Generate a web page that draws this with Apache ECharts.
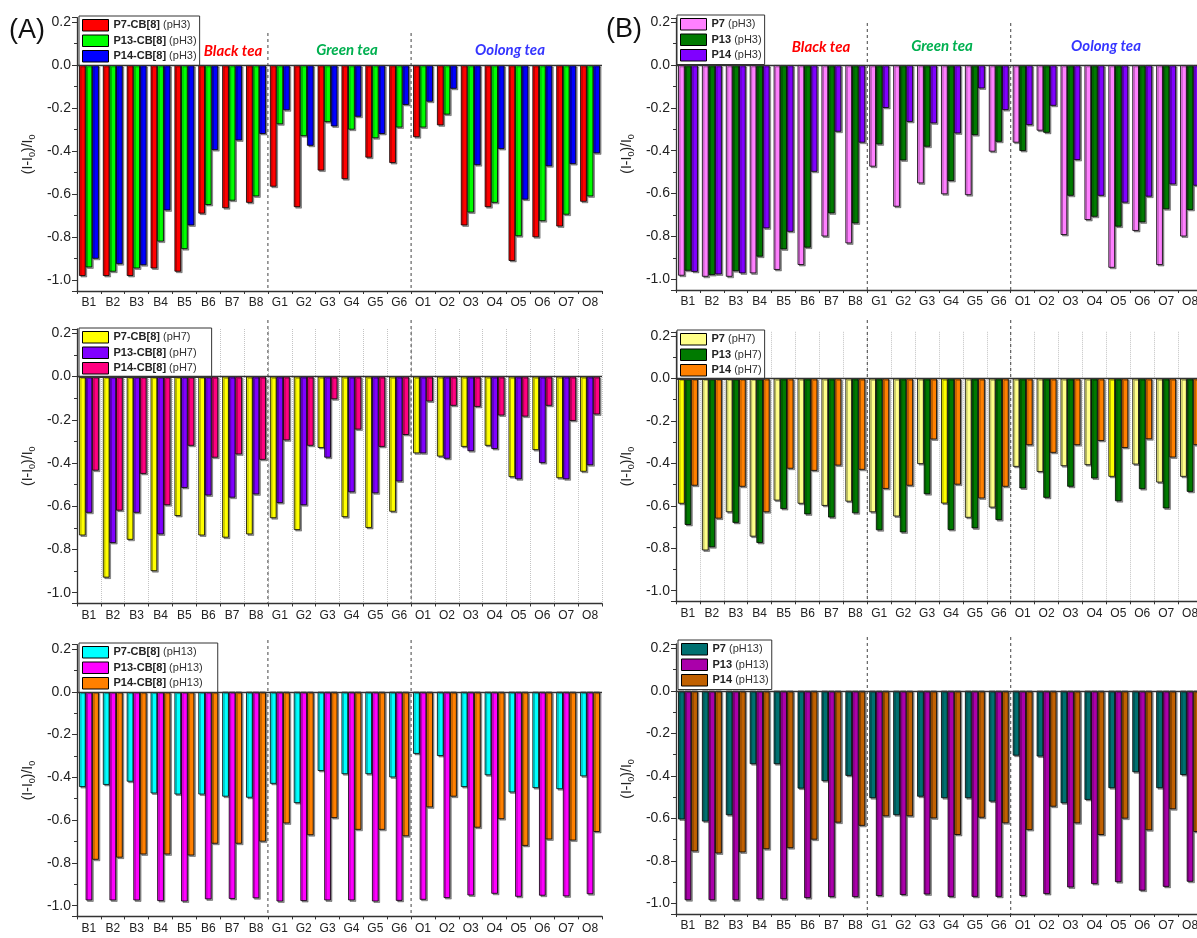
<!DOCTYPE html>
<html>
<head>
<meta charset="utf-8">
<script src="https://cdn.jsdelivr.net/npm/echarts@6/dist/echarts.min.js"></script>
<style>
  html, body { margin: 0; padding: 0; background: #ffffff; }
  #chart { width: 1197px; height: 938px; }
</style>
</head>
<body>
<div id="chart"></div>
<script>
// Tea samples: black (B), green (G) and oolong (O)
const categories = ['B1','B2','B3','B4','B5','B6','B7','B8',
                    'G1','G2','G3','G4','G5','G6',
                    'O1','O2','O3','O4','O5','O6','O7','O8'];

// (A) polymer–CB[8] complexes, response (I-I0)/I0
const cbP7_pH3  = [-0.98,-0.98,-0.98,-0.945,-0.96,-0.69,-0.665,-0.64,-0.565,-0.66,-0.49,-0.53,-0.43,-0.455,-0.335,-0.28,-0.745,-0.66,-0.91,-0.80,-0.75,-0.635];
const cbP13_pH3 = [-0.94,-0.96,-0.945,-0.82,-0.855,-0.65,-0.63,-0.61,-0.275,-0.33,-0.265,-0.30,-0.34,-0.29,-0.29,-0.23,-0.685,-0.64,-0.795,-0.725,-0.695,-0.61];
const cbP14_pH3 = [-0.90,-0.925,-0.93,-0.675,-0.745,-0.395,-0.35,-0.32,-0.21,-0.375,-0.285,-0.24,-0.32,-0.185,-0.17,-0.11,-0.465,-0.39,-0.625,-0.47,-0.46,-0.41];

const cbP7_pH7  = [-0.735,-0.93,-0.755,-0.90,-0.645,-0.735,-0.745,-0.73,-0.655,-0.71,-0.33,-0.65,-0.70,-0.625,-0.355,-0.37,-0.325,-0.32,-0.465,-0.34,-0.47,-0.44];
const cbP13_pH7 = [-0.63,-0.77,-0.63,-0.73,-0.515,-0.55,-0.56,-0.545,-0.585,-0.595,-0.375,-0.535,-0.54,-0.485,-0.355,-0.38,-0.345,-0.335,-0.475,-0.40,-0.475,-0.41];
const cbP14_pH7 = [-0.435,-0.62,-0.45,-0.595,-0.32,-0.375,-0.36,-0.385,-0.295,-0.32,-0.105,-0.245,-0.325,-0.27,-0.115,-0.135,-0.14,-0.18,-0.185,-0.135,-0.205,-0.175];

const cbP7_pH13  = [-0.445,-0.435,-0.42,-0.475,-0.48,-0.48,-0.49,-0.495,-0.43,-0.52,-0.37,-0.385,-0.385,-0.40,-0.29,-0.30,-0.445,-0.39,-0.47,-0.45,-0.455,-0.395];
const cbP13_pH13 = [-0.975,-0.975,-0.975,-0.978,-0.98,-0.97,-0.968,-0.965,-0.98,-0.978,-0.975,-0.975,-0.98,-0.977,-0.972,-0.964,-0.952,-0.944,-0.958,-0.953,-0.956,-0.946];
const cbP14_pH13 = [-0.785,-0.775,-0.76,-0.76,-0.765,-0.71,-0.71,-0.70,-0.615,-0.67,-0.59,-0.645,-0.645,-0.675,-0.54,-0.49,-0.635,-0.595,-0.72,-0.69,-0.695,-0.655];

// (B) free polymers
const p7_pH3  = [-0.983,-0.988,-0.988,-0.972,-0.956,-0.933,-0.80,-0.832,-0.474,-0.661,-0.552,-0.603,-0.607,-0.404,-0.362,-0.306,-0.793,-0.723,-0.946,-0.774,-0.933,-0.80];
const p13_pH3 = [-0.96,-0.98,-0.962,-0.894,-0.86,-0.852,-0.692,-0.739,-0.37,-0.445,-0.381,-0.541,-0.327,-0.358,-0.401,-0.316,-0.61,-0.708,-0.754,-0.734,-0.673,-0.676];
const p14_pH3 = [-0.965,-0.977,-0.972,-0.762,-0.778,-0.498,-0.311,-0.362,-0.20,-0.265,-0.272,-0.319,-0.109,-0.21,-0.28,-0.19,-0.443,-0.61,-0.642,-0.614,-0.557,-0.563];

const p7_pH7  = [-0.59,-0.81,-0.63,-0.745,-0.575,-0.59,-0.60,-0.58,-0.63,-0.65,-0.403,-0.589,-0.656,-0.608,-0.416,-0.44,-0.413,-0.408,-0.463,-0.405,-0.49,-0.463];
const p13_pH7 = [-0.69,-0.795,-0.68,-0.775,-0.615,-0.64,-0.655,-0.635,-0.715,-0.725,-0.545,-0.714,-0.706,-0.667,-0.518,-0.562,-0.51,-0.471,-0.578,-0.521,-0.612,-0.534];
const p14_pH7 = [-0.505,-0.66,-0.51,-0.63,-0.425,-0.435,-0.41,-0.43,-0.52,-0.505,-0.287,-0.50,-0.565,-0.51,-0.314,-0.35,-0.314,-0.294,-0.327,-0.286,-0.372,-0.314];

const p7_pH13  = [-0.605,-0.615,-0.585,-0.345,-0.345,-0.46,-0.425,-0.40,-0.505,-0.585,-0.498,-0.505,-0.505,-0.521,-0.305,-0.309,-0.529,-0.513,-0.458,-0.383,-0.458,-0.396];
const p13_pH13 = [-0.985,-0.985,-0.985,-0.98,-0.98,-0.975,-0.97,-0.97,-0.965,-0.96,-0.958,-0.969,-0.969,-0.969,-0.965,-0.956,-0.925,-0.909,-0.90,-0.94,-0.922,-0.898];
const p14_pH13 = [-0.755,-0.765,-0.76,-0.745,-0.74,-0.70,-0.62,-0.635,-0.59,-0.59,-0.60,-0.678,-0.597,-0.623,-0.655,-0.545,-0.623,-0.678,-0.601,-0.656,-0.557,-0.664];

// Bars of P7 (pH7) that are drawn in a brighter yellow
const brightP7pH7 = [0, 11, 18];

const FONT = '"Liberation Sans", Arial, sans-serif';

const panels = [
  { grid: {left: 77, top: 17.7, width: 525, height: 273.3},
    names: ['P7-CB[8] (pH3)', 'P13-CB[8] (pH3)', 'P14-CB[8] (pH3)'],
    values: [cbP7_pH3, cbP13_pH3, cbP14_pH3],
    colors: ['#FF0000', '#00FF00', '#0000FF'],
    legend: {left: 79, top: 16, padRight: 3}, vgrid: false, dashTop: 33 },
  { grid: {left: 77, top: 329, width: 525, height: 274.5},
    names: ['P7-CB[8] (pH7)', 'P13-CB[8] (pH7)', 'P14-CB[8] (pH7)'],
    values: [cbP7_pH7, cbP13_pH7, cbP14_pH7],
    colors: ['#FFFF00', '#8000FF', '#FF0080'],
    legend: {left: 79, top: 328, padRight: 15}, vgrid: true, dashTop: 320 },
  { grid: {left: 77, top: 644.7, width: 525, height: 271.7},
    names: ['P7-CB[8] (pH13)', 'P13-CB[8] (pH13)', 'P14-CB[8] (pH13)'],
    values: [cbP7_pH13, cbP13_pH13, cbP14_pH13],
    colors: ['#00FFFF', '#FF00FF', '#FF8000'],
    legend: {left: 79, top: 643, padRight: 15}, vgrid: false, dashTop: 640 },
  { grid: {left: 676, top: 17.9, width: 526, height: 272.1},
    names: ['P7 (pH3)', 'P13 (pH3)', 'P14 (pH3)'],
    values: [p7_pH3, p13_pH3, p14_pH3],
    colors: ['#FF80FF', '#007A00', '#8000FF'],
    legend: {left: 677, top: 15, padRight: 3}, vgrid: false, dashTop: 23 },
  { grid: {left: 676, top: 331.8, width: 526, height: 269.5},
    names: ['P7 (pH7)', 'P13 (pH7)', 'P14 (pH7)'],
    values: [p7_pH7, p13_pH7, p14_pH7],
    colors: ['#FFFF88', '#007A00', '#FF8000'],
    legend: {left: 677, top: 330, padRight: 3}, vgrid: true, dashTop: 320 },
  { grid: {left: 676, top: 644, width: 526, height: 270},
    names: ['P7 (pH13)', 'P13 (pH13)', 'P14 (pH13)'],
    values: [p7_pH13, p13_pH13, p14_pH13],
    colors: ['#007070', '#AA00AA', '#C06000'],
    legend: {left: 678, top: 640, padRight: 3}, vgrid: false, dashTop: 637 }
];

const grids = [], xAxes = [], yAxes = [], legends = [], series = [];

panels.forEach((p, k) => {
  grids.push(Object.assign({outerBoundsMode: 'none', containLabel: false}, p.grid));

  // labelled category axis with ticks at the sample centres
  xAxes.push({
    type: 'category', gridIndex: k, data: categories, position: 'bottom',
    axisLine: {onZero: false, lineStyle: {color: '#333', width: 1.3}},
    axisTick: {alignWithLabel: true, length: 5, interval: 0, lineStyle: {color: '#333'}},
    axisLabel: {interval: 0, margin: 6, fontSize: 12, color: '#222', fontFamily: FONT},
    splitLine: {show: false}
  });
  // second axis for the short ticks (and dotted lines) between samples
  xAxes.push({
    type: 'category', gridIndex: k, data: categories, position: 'bottom',
    axisLine: {show: false, onZero: false},
    axisTick: {show: true, alignWithLabel: false, length: 3, interval: 0, lineStyle: {color: '#333'}},
    axisLabel: {show: false},
    splitLine: {show: p.vgrid, interval: 0, lineStyle: {type: 'dotted', color: '#c4c4c4', width: 1}}
  });

  yAxes.push({
    type: 'value', gridIndex: k, min: -1.05, max: 0.22,
    splitNumber: 6, minInterval: 0.2, maxInterval: 0.2,
    axisLine: {show: true, onZero: false, lineStyle: {color: '#333', width: 1.3}},
    axisTick: {show: true, length: 5, lineStyle: {color: '#333'}},
    minorTick: {show: true, splitNumber: 2, length: 3, lineStyle: {color: '#333'}},
    splitLine: {show: false},
    axisLabel: {showMinLabel: false, showMaxLabel: false, fontSize: 14, color: '#222',
                fontFamily: FONT, margin: 6, formatter: v => v.toFixed(1)},
    name: '(I-I{s|0})/I{s|0}', nameLocation: 'middle', nameGap: 40, nameRotate: 90,
    nameTextStyle: {fontSize: 14, color: '#222', fontFamily: FONT,
      rich: {s: {fontSize: 9, fontFamily: FONT, color: '#222', padding: [9, 0, 0, 0], verticalAlign: 'bottom'}}}
  });

  legends.push({
    data: p.names, orient: 'vertical', left: p.legend.left, top: p.legend.top,
    icon: 'rect', itemWidth: 26, itemHeight: 11.5, itemGap: 3,
    padding: [3, p.legend.padRight, 3, 3],
    backgroundColor: '#ffffff', borderColor: '#333', borderWidth: 1, borderRadius: 0,
    selectedMode: false,
    itemStyle: {borderColor: '#000', borderWidth: 1, shadowOffsetX: 0, shadowOffsetY: 0, shadowBlur: 0},
    formatter: name => {
      const i = name.indexOf(' (');
      return '{b|' + name.slice(0, i) + '} {n|' + name.slice(i + 1) + '}';
    },
    textStyle: {
      fontSize: 11, color: '#222', fontFamily: FONT,
      rich: {
        b: {fontSize: 11, fontWeight: 'bold', color: '#222', fontFamily: FONT},
        n: {fontSize: 11, color: '#333', fontFamily: FONT}
      }
    }
  });

  p.values.forEach((vals, j) => {
    const data = (k === 4 && j === 0)
      ? vals.map((v, i) => brightP7pH7.includes(i) ? {value: v, itemStyle: {color: '#FFFF00'}} : v)
      : vals;
    const s = {
      type: 'bar', name: p.names[j], xAxisIndex: 2 * k, yAxisIndex: k,
      data: data, barWidth: 6.6, barGap: '0%',
      itemStyle: {color: p.colors[j], borderColor: '#000', borderWidth: 0.8,
                  shadowColor: 'rgba(0,0,0,0.4)', shadowOffsetX: 1.5, shadowOffsetY: 1.5, shadowBlur: 0},
      emphasis: {disabled: true}
    };
    if (j === 0) {
      // baseline at zero across the panel
      s.markLine = {silent: true, symbol: 'none', label: {show: false},
        lineStyle: {color: '#333', width: 1.3, type: 'solid'}, data: [{yAxis: 0}]};
    }
    series.push(s);
  });
});

const chart = echarts.init(document.getElementById('chart'), null, {renderer: 'canvas'});
chart.setOption({
  animation: false,
  backgroundColor: '#ffffff',
  grid: grids, xAxis: xAxes, yAxis: yAxes, legend: legends, series: series
});

// panel letters, tea-type captions and dashed dividers between tea types
const teaFont = 'italic bold 15px Lato, "Open Sans", sans-serif';
const gfx = [
  {type: 'text', left: 9, top: 17, style: {text: '(A)', font: '27px ' + FONT, fill: '#111'}},
  {type: 'text', left: 606, top: 16, style: {text: '(B)', font: '27px ' + FONT, fill: '#111'}}
];
const teaLabels = [
  {text: 'Black tea', color: '#FF0000'},
  {text: 'Green tea', color: '#00B050'},
  {text: 'Oolong tea', color: '#3535FF'}
];
const teaPos = [
  [[233, 51], [347, 50], [510, 50]],
  [[821, 47.5], [942, 46.5], [1106, 46.5]]
];
teaPos.forEach(row => row.forEach(([x, y], i) => {
  gfx.push({type: 'text', x: x, y: y, style: {text: teaLabels[i].text, font: teaFont,
            fill: teaLabels[i].color, align: 'center', verticalAlign: 'middle'}});
}));

panels.forEach((p, k) => {
  const finder = {xAxisIndex: 2 * k};
  [['B8', 'G1'], ['G6', 'O1']].forEach(([a, b]) => {
    const x = (chart.convertToPixel(finder, a) + chart.convertToPixel(finder, b)) / 2;
    gfx.push({type: 'line', z: 50,
      shape: {x1: x, y1: p.dashTop, x2: x, y2: p.grid.top + p.grid.height},
      style: {stroke: '#444', lineWidth: 1, lineDash: [3, 3]}});
  });
});

chart.setOption({graphic: gfx});
</script>
</body>
</html>
